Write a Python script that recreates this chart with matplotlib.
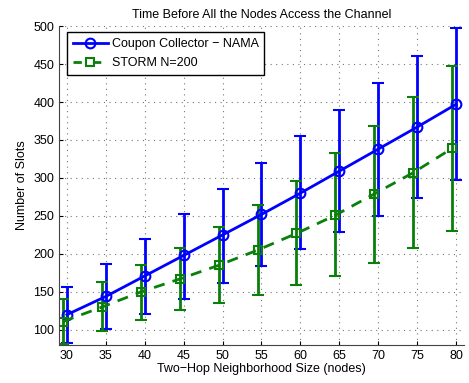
import numpy as np
import matplotlib.pyplot as plt
from matplotlib.lines import Line2D

plt.rcParams['font.family'] = ['Liberation Sans', 'DejaVu Sans']
plt.rcParams['font.size'] = 9

# 2ホップ近傍サイズ
nodes = np.array([30, 35, 40, 45, 50, 55, 60, 65, 70, 75, 80])

# Coupon Collector - NAMA
nama_mean = np.array([120, 144, 171, 198, 225, 252, 280, 309, 338, 367, 397])
nama_low = np.array([83, 101, 121, 141, 162, 184, 206, 229, 250, 274, 297])
nama_high = np.array([156, 187, 220, 253, 286, 320, 355, 390, 425, 460, 498])

# STORM N=200
storm_mean = np.array([111, 130, 150, 167, 185, 205, 227, 251, 279, 307, 339])
storm_low = np.array([81, 98, 113, 126, 136, 146, 159, 171, 188, 208, 230])
storm_high = np.array([141, 163, 185, 208, 235, 264, 296, 333, 368, 407, 448])

blue = '#0000ff'
green = '#0a7f0a'

fig = plt.figure(figsize=(4.69, 3.83), dpi=100)
ax = fig.add_axes([0.126, 0.099, 0.863, 0.833])

ax.errorbar(nodes, nama_mean,
            yerr=[nama_mean - nama_low, nama_high - nama_mean],
            color=blue, linestyle='-', linewidth=2, marker='o',
            markersize=7, markerfacecolor='none', markeredgewidth=1.5,
            elinewidth=2, capsize=4.5, capthick=2)

# STORMは少し左にずらして描画
ax.errorbar(nodes - 0.5, storm_mean,
            yerr=[storm_mean - storm_low, storm_high - storm_mean],
            color=green, linestyle='--', dashes=(4, 3), linewidth=2,
            marker='s', markersize=6, markerfacecolor='none',
            markeredgewidth=1.5, elinewidth=2, capsize=4.5, capthick=2)

ax.set_xlim(29, 81)
ax.set_ylim(80, 500)
ax.set_xticks(nodes)
ax.set_yticks(np.arange(100, 501, 50))
ax.tick_params(direction='in', length=3, labelsize=9, colors='black')

ax.spines['top'].set_visible(False)
ax.spines['right'].set_visible(False)
ax.spines['left'].set_color('#444444')
ax.spines['bottom'].set_color('#444444')

ax.grid(True, linestyle=(0, (1, 4)), color='#777777', linewidth=0.8)

ax.set_title('Time Before All the Nodes Access the Channel', fontsize=9)
ax.set_xlabel('Two\u2212Hop Neighborhood Size (nodes)', fontsize=9, labelpad=1)
ax.set_ylabel('Number of Slots', fontsize=9)

# 凡例は線とマーカーだけ
handles = [
    Line2D([], [], color=blue, linestyle='-', linewidth=2, marker='o',
           markersize=7, markerfacecolor='none', markeredgewidth=1.5),
    Line2D([], [], color=green, linestyle='--', dashes=(3, 4), linewidth=2,
           marker='s', markersize=6, markerfacecolor='none',
           markeredgewidth=1.5),
]
labels = ['Coupon Collector \u2212 NAMA', 'STORM N=200']
leg = ax.legend(handles, labels, loc='upper left', fontsize=9, fancybox=False,
                framealpha=1, edgecolor='black',
                bbox_to_anchor=(0.005, 1.0),
                handlelength=2.8, handletextpad=0.3, borderpad=0.45,
                labelspacing=0.6)
leg.get_frame().set_linewidth(1)

fig.savefig('out.png', dpi=100)
